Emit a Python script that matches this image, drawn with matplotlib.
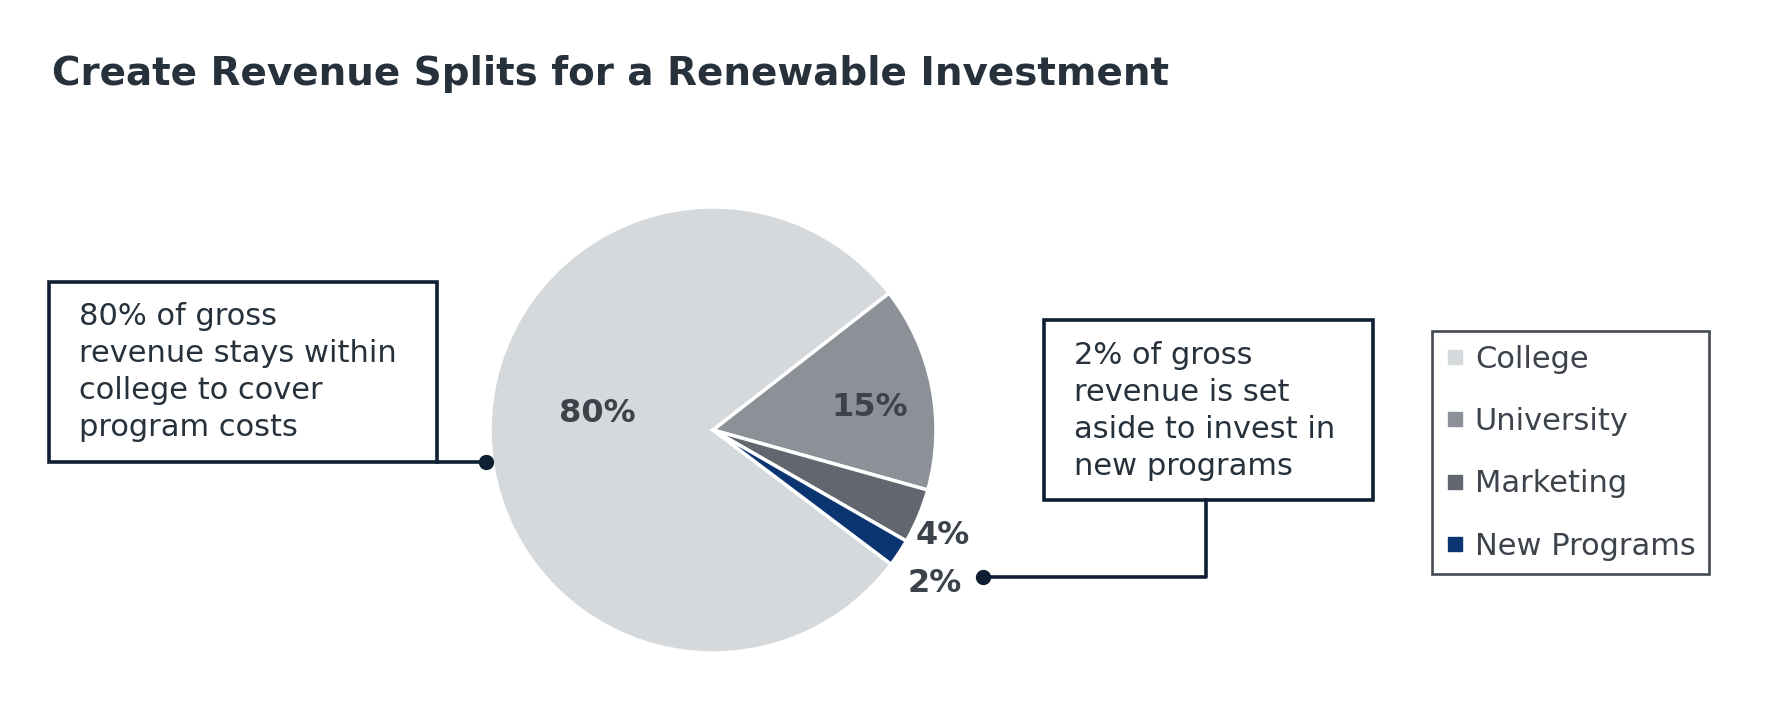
import matplotlib.pyplot as plt
from matplotlib.lines import Line2D
from matplotlib.patches import Rectangle

# chart data
categories = ["College", "University", "Marketing", "New Programs"]
shares = [80, 15, 4, 2]
pct_labels = ["80%", "15%", "4%", "2%"]
colors = ["#d6d9db", "#8c9097", "#62666e", "#0b3570"]

title = "Create Revenue Splits for a Renewable Investment"
left_note = "80% of gross\nrevenue stays within\ncollege to cover\nprogram costs"
right_note = "2% of gross\nrevenue is set\naside to invest in\nnew programs"

W, H = 1774, 712
dark = "#27313c"
label_col = "#3d434b"
box_col = "#0e1f33"


def Y(y):
    # image pixel row -> data y
    return H - y


fig = plt.figure(figsize=(W / 100, H / 100), dpi=100)
ax = fig.add_axes([0, 0, 1, 1])

wedges, _ = ax.pie(shares, colors=colors, startangle=323, counterclock=False,
                   center=(713, Y(430)), radius=223, frame=True,
                   wedgeprops=dict(edgecolor="white", linewidth=2.5))
ax.set_xlim(0, W)
ax.set_ylim(0, H)
ax.set_aspect("equal")
ax.axis("off")

# percentage labels
label_pos = [(597, 414), (870, 408), (943, 536), (935, 584)]
for txt, (x, y) in zip(pct_labels, label_pos):
    ax.text(x, Y(y), txt, ha="center", va="center", fontsize=23,
            fontweight="bold", color=label_col)

# title
fig.text(52 / W, 1 - 85 / H, title, ha="left", va="baseline", fontsize=28,
         fontweight="bold", color=dark)

# left callout
ax.add_patch(Rectangle((49, Y(462)), 388, 180, fill=False, lw=2.6,
                       ec=box_col, joinstyle="miter"))
ax.text(79, Y(372), left_note, ha="left", va="center", fontsize=22,
        color=dark, linespacing=1.34)
ax.plot([437, 486], [Y(462), Y(462)], color=box_col, lw=2.6)
ax.plot([486], [Y(462)], "o", color=box_col, ms=10)

# right callout
ax.add_patch(Rectangle((1044, Y(500)), 329, 180, fill=False, lw=2.6,
                       ec=box_col, joinstyle="miter"))
ax.text(1074, Y(411), right_note, ha="left", va="center", fontsize=22,
        color=dark, linespacing=1.34)
ax.plot([1206, 1206, 983], [Y(500), Y(577), Y(577)], color=box_col, lw=2.6)
ax.plot([983], [Y(577)], "o", color=box_col, ms=10)

# legend
handles = [Line2D([], [], marker="s", ls="", color=c, markersize=9.5) for c in colors]
leg = fig.legend(handles, categories, loc="upper left",
                 bbox_to_anchor=(1432 / W, 1 - 331 / H), borderaxespad=0,
                 fontsize=22, frameon=True, fancybox=False, framealpha=1,
                 borderpad=0.45, labelspacing=1.09, handlelength=0.6,
                 handletextpad=0.35, labelcolor=label_col)
leg.get_frame().set_edgecolor("#454b53")
leg.get_frame().set_linewidth(1.9)

fig.savefig("out.png", dpi=100)
